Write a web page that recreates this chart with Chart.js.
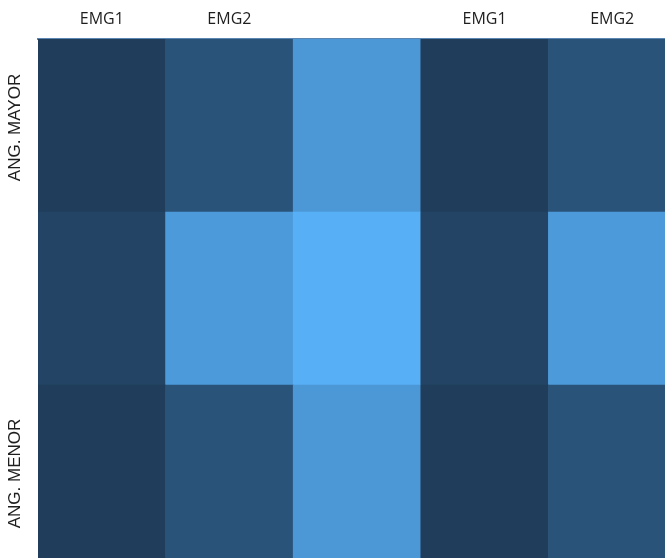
<!DOCTYPE html>
<html>
<head>
<meta charset="utf-8">
<script src="https://cdn.jsdelivr.net/npm/chart.js@4"></script>
<style>
    html, body { margin: 0; padding: 0; background: #fff; overflow: hidden; }
    #wrap { width: 676px; height: 558px; }
</style>
</head>
<body>
<div id="wrap"><canvas id="heat" width="676" height="558"></canvas></div>
<script>
// columns (top labels), the middle one has no label
const colLabels = ['EMG1', 'EMG2', '', 'EMG1', 'EMG2'];
// rows from top to bottom
const rowLabels = ['ANG. MAYOR', '', 'ANG. MENOR'];

// cell intensity 0..1, one array per row (top -> bottom)
const rowMayor = [0.00, 0.19, 0.80, 0.00, 0.19];
const rowMiddle = [0.06, 0.82, 1.00, 0.06, 0.82];
const rowMenor = [0.00, 0.19, 0.80, 0.00, 0.19];

// colour scale ends
const lowColor = [32, 61, 92];
const highColor = [87, 175, 246];

function toColor(v) {
    const c = lowColor.map((lo, i) => Math.round(lo + (highColor[i] - lo) * v));
    return `rgb(${c[0]}, ${c[1]}, ${c[2]})`;
}

// stacked bars are drawn bottom-up, so the last row comes first
const rows = [rowMayor, rowMiddle, rowMenor];
const datasets = rows.slice().reverse().map((vals, i) => ({
    label: rowLabels[rows.length - 1 - i],
    data: vals.map(() => 1),
    backgroundColor: vals.map(toColor),
    borderWidth: 0,
    barPercentage: 1,
    categoryPercentage: 1
}));

const rowLabelPlugin = {
    id: 'rowLabels',
    afterDraw(chart) {
        const ctx = chart.ctx;
        const y = chart.scales.y;
        ctx.save();
        ctx.fillStyle = '#1e1e1e';
        ctx.font = '17px "Liberation Sans", Arial, sans-serif';
        ctx.textAlign = 'center';
        ctx.textBaseline = 'middle';
        rowLabels.forEach((label, i) => {
            if (!label) return;
            const py = y.getPixelForValue(rows.length - i - 0.5);
            ctx.save();
            ctx.translate(15, py + 2);
            ctx.rotate(-Math.PI / 2);
            ctx.fillText(label, 0, 0);
            ctx.restore();
        });
        ctx.restore();
    }
};

new Chart(document.getElementById('heat'), {
    type: 'bar',
    data: { labels: colLabels, datasets },
    plugins: [rowLabelPlugin],
    options: {
        responsive: false,
        animation: false,
        layout: { padding: { left: 38, right: 0, top: 0, bottom: 0 } },
        plugins: { legend: { display: false }, tooltip: { enabled: false } },
        scales: {
            x: {
                position: 'top',
                stacked: true,
                grid: { display: false, drawTicks: false },
                border: { display: true, color: '#5b86b2', width: 2 },
                ticks: {
                    color: '#1e1e1e',
                    font: { family: '"Open Sans", sans-serif', size: 16 },
                    padding: 9.9,
                    maxRotation: 0
                }
            },
            y: {
                display: false,
                stacked: true,
                min: 0,
                max: 3
            }
        }
    }
});
</script>
</body>
</html>
